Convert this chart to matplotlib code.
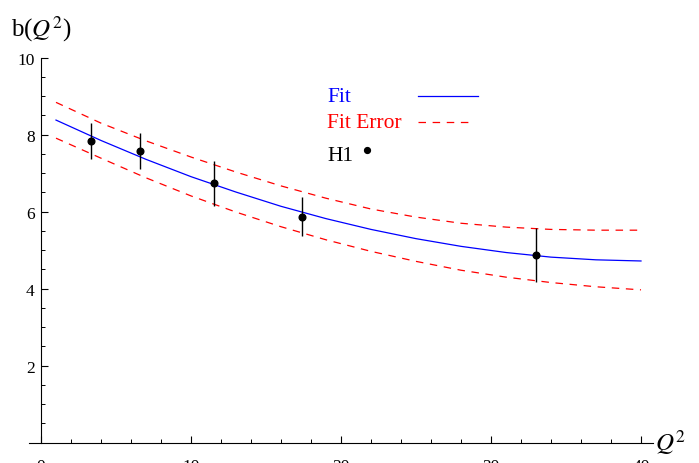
import matplotlib
matplotlib.use("Agg")
import matplotlib.pyplot as plt
from matplotlib.ticker import MultipleLocator, FixedLocator

plt.rcParams['font.family'] = 'serif'
plt.rcParams['font.serif'] = ['Liberation Serif', 'DejaVu Serif']
plt.rcParams['mathtext.fontset'] = 'stix'

# fit curve and error band
q2_curve = [1, 4, 7, 10, 13, 16, 19, 22, 25, 28, 31, 34, 37, 40]
fit = [8.38, 7.85, 7.36, 6.91, 6.51, 6.14, 5.82, 5.54, 5.30, 5.10, 4.94, 4.82, 4.75, 4.72]
fit_up = [8.84, 8.30, 7.84, 7.42, 7.03, 6.67, 6.35, 6.07, 5.86, 5.70, 5.60, 5.54, 5.52, 5.52]
fit_lo = [7.91, 7.39, 6.88, 6.41, 5.99, 5.61, 5.27, 4.97, 4.71, 4.48, 4.30, 4.16, 4.05, 3.97]

# H1 points
q2_h1 = [3.31, 6.63, 11.53, 17.43, 33.03]
b_h1 = [7.84, 7.58, 6.74, 5.87, 4.88]
b_err = [0.47, 0.47, 0.58, 0.50, 0.70]

x_ticks = [0, 10, 20, 30, 40]
y_ticks = [2, 4, 6, 8, 10]

W, H = 699, 464
fig = plt.figure(figsize=(W / 100, H / 100), dpi=100)

def fx(px):
    return px / W

def fy(py):
    return (H - py) / H

# axes box: x from -0.8 to 40.8, y 0..10
ax = fig.add_axes([fx(29), fy(443.7), fx(653) - fx(29), fy(58.7) - fy(443.7)])
ax.set_xlim(-0.8, 40.8)
ax.set_ylim(0, 10)

dash = (6, 5.3)
ax.plot(q2_curve, fit, color='blue', lw=0.9)
ax.plot(q2_curve, fit_up, color='red', lw=0.9, dashes=dash)
ax.plot(q2_curve, fit_lo, color='red', lw=0.9, dashes=dash)
ax.errorbar(q2_h1, b_h1, yerr=b_err, fmt='o', color='black', ms=4.8,
            elinewidth=1.0, capsize=0, zorder=5)

for s in ['top', 'right']:
    ax.spines[s].set_visible(False)
ax.spines['left'].set_position(('data', 0))
ax.spines['bottom'].set_position(('data', 0))
ax.spines['left'].set_linewidth(0.8)
ax.spines['bottom'].set_linewidth(0.8)

ax.xaxis.set_major_locator(FixedLocator(x_ticks))
ax.xaxis.set_minor_locator(MultipleLocator(2))
ax.yaxis.set_major_locator(FixedLocator(y_ticks))
ax.yaxis.set_minor_locator(MultipleLocator(0.5))
ax.tick_params(which='major', direction='in', length=5, width=0.8, labelsize=12.5)
ax.tick_params(which='minor', direction='in', length=3, width=0.7)
ax.tick_params(axis='x', which='major', pad=11)
ax.tick_params(axis='y', which='major', pad=4.5)

# axis labels
fig.text(fx(11), fy(36), r'b($Q^2$)', fontsize=18, va='baseline', ha='left')
fig.text(fx(655), fy(451), r'$Q^2$', fontsize=18, va='baseline', ha='left')

# hand made legend
fig.text(fx(327), fy(101.7), 'Fit', color='blue', fontsize=15.5, va='baseline')
fig.text(fx(327), fy(128.3), 'Fit Error', color='red', fontsize=15.5, va='baseline')
fig.text(fx(327), fy(160.7), 'H1', color='black', fontsize=15.5, va='baseline')
ax.plot([fx(418), fx(478)], [fy(96.7), fy(96.7)], color='blue', lw=0.9,
        transform=fig.transFigure, clip_on=False)
ax.plot([fx(418), fx(473)], [fy(122.7), fy(122.7)], color='red', lw=0.9,
        dashes=dash, transform=fig.transFigure, clip_on=False)
ax.plot([fx(367.3)], [fy(151)], 'o', color='black', ms=4.2,
        transform=fig.transFigure, clip_on=False)

fig.savefig('out.png', dpi=100)
